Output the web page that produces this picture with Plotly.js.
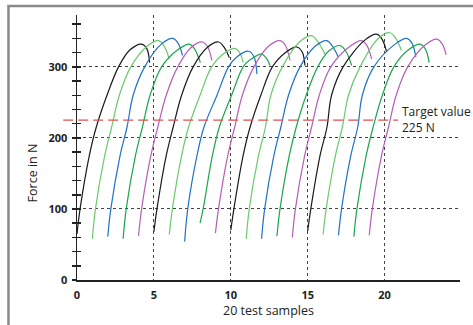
<!DOCTYPE html>
<html>
<head>
<meta charset="utf-8">
<script src="https://cdn.plot.ly/plotly-3.0.1.min.js"></script>
<style>html,body{margin:0;padding:0;background:#fff;}#chart{width:473px;height:325px;}</style>
</head>
<body>
<div id="chart"></div>
<script>
// ---- data ----
const sampleStart = [0,1,2,3,4,5,6,7,8,9,10,11,12,13,14,15,16,17,18,19];
const startForce  = [65,58,61,58,62,68,64,54,80,66,70,58,58,62,60,69,64,63,61,63];
// shared rise of each curve (offset from start, force) read from sample 1
const riseDx      = [0.2, 0.8, 1.25];
const riseForce   = [100, 175, 215];
const x300        = [2.7,3.5,4.4,5.5,6.55,7.55,8.75,9.85,10.8,11.5,12.7,13.35,14.5,15.65,16.5,17.3,18.4,19.3,20.6,21.5];
const peakX       = [4.2,5.3,6.23,7.3,8.15,9.2,10.25,11.14,12.0,13.2,14.29,15.26,16.23,17.1,18.5,19.48,20.34,21.43,22.3,23.4];
const peakForce   = [332,337,340,332,335,335,326,322,318,337,328,344,337,330,337,346,348,340,332,339];
const endX        = [4.72,6.0,6.86,8.02,8.77,9.9,10.8,11.7,12.55,13.85,14.82,16.12,16.99,17.86,19.16,20.13,21.1,22.03,22.9,24.0];
const endForce    = [306,311,316,306,309,313,306,290,302,309,302,318,314,302,311,321,323,314,306,317];
const targetForce = 225;
const xTicks = [0,5,10,15,20];
const yTicks = [0,100,200,300];

const palette = ['#1a1a1a', '#6cc96c', '#1f72c4', '#1aa64e', '#b35fb8'];

const traces = sampleStart.map((s, i) => {
  const xs = [s], ys = [startForce[i]];
  riseDx.forEach((d, k) => { xs.push(s + d); ys.push(riseForce[k]); });
  xs.push(x300[i] - 0.75); ys.push(260);
  xs.push(x300[i]); ys.push(300);
  xs.push(peakX[i] - 0.75); ys.push(peakForce[i] - 8);
  xs.push(peakX[i]); ys.push(peakForce[i]);
  xs.push(peakX[i] + 0.35); ys.push(peakForce[i] - 7);
  xs.push(endX[i]); ys.push(endForce[i]);
  return {
    x: xs, y: ys, type: 'scatter', mode: 'lines',
    line: {color: palette[i % palette.length], width: 1.2, shape: 'spline', smoothing: 1},
    hoverinfo: 'skip', showlegend: false
  };
});
traces.push({x: [], y: [], yaxis: 'y2', type: 'scatter', mode: 'lines', showlegend: false, hoverinfo: 'skip'});

const tickFont = {family: 'Open Sans, sans-serif', size: 11, color: '#222', weight: 'bold'};

const layout = {
  width: 473, height: 325,
  margin: {l: 77, r: 13, t: 15, b: 45},
  paper_bgcolor: '#fff', plot_bgcolor: '#fff',
  showlegend: false,
  font: {family: 'Open Sans, sans-serif', color: '#222'},
  xaxis: {
    range: [0, 24.9], tickvals: xTicks, ticks: '', showline: true, linecolor: '#222', linewidth: 1.5,
    zeroline: false, showgrid: true, gridcolor: '#444', griddash: 'dot', gridwidth: 1,
    tickfont: tickFont, ticklabelstandoff: 4,
    title: {text: '20 test samples', font: {family: 'Open Sans, sans-serif', size: 12.5, color: '#222'}, standoff: 2}
  },
  yaxis: {
    range: [0, 373], tickvals: yTicks, ticks: 'outside', ticklen: 4, tickwidth: 1.5, tickcolor: '#222',
    showline: true, linecolor: '#222', linewidth: 1.5, zeroline: false,
    showgrid: true, gridcolor: '#444', griddash: 'dot', gridwidth: 1,
    minor: {dtick: 20, tick0: 0, ticks: 'outside', ticklen: 4, tickwidth: 1.5, tickcolor: '#222', showgrid: false},
    tickfont: tickFont, ticklabelstandoff: 2
  },
  yaxis2: {
    overlaying: 'y', anchor: 'x', range: [0, 373], dtick: 20, tick0: 0, ticks: 'inside', ticklen: 3.5,
    tickwidth: 1.5, tickcolor: '#222', showticklabels: false, showgrid: false, showline: false, zeroline: false
  },
  shapes: [
    {type: 'line', xref: 'paper', yref: 'y', x0: -0.036, x1: 0.838, y0: targetForce, y1: targetForce,
     line: {color: '#e0504e', width: 1.1, dash: '10px,5px'}, layer: 'above'},
    {type: 'path', xref: 'paper', yref: 'paper', path: 'M -0.1789 -0.25 L -0.1789 1.034 L 1.1 1.034',
     line: {color: '#8a8a8a', width: 2.5}}
  ],
  annotations: [
    {x: 21.0, y: 226, xref: 'x', yref: 'y', xanchor: 'left', yanchor: 'middle', align: 'left', showarrow: false,
     text: 'Target value<br>' + targetForce + ' N', font: {family: 'Open Sans, sans-serif', size: 12, color: '#222'}},
    {x: -0.1175, y: 0.406, xref: 'paper', yref: 'paper', xanchor: 'center', yanchor: 'middle', textangle: -90, showarrow: false,
     text: 'Force in N', font: {family: 'Open Sans, sans-serif', size: 12.5, color: '#222'}}
  ]
};

Plotly.newPlot('chart', traces, layout, {staticPlot: true, displayModeBar: false});
</script>
</body>
</html>
